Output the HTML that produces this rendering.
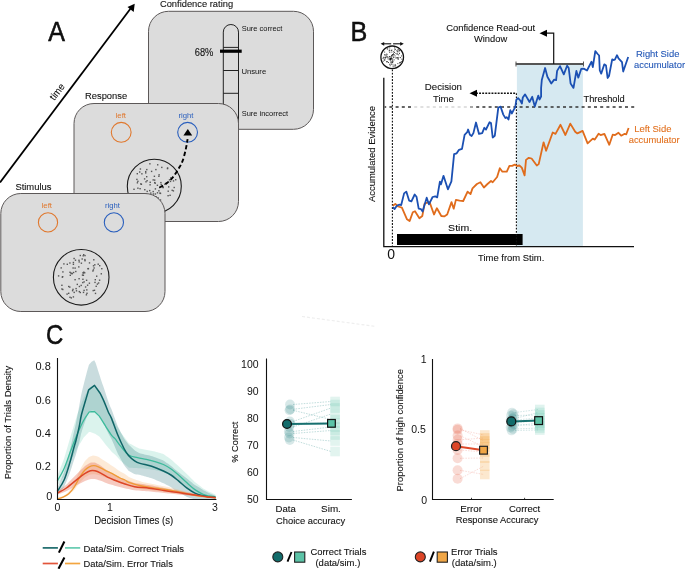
<!DOCTYPE html>
<html><head><meta charset="utf-8"><style>
html,body{margin:0;padding:0;background:#fff;width:685px;height:569px;overflow:hidden}
svg{display:block;will-change:transform}
text{font-family:"Liberation Sans", sans-serif}
</style></head><body>
<svg width="685" height="569" viewBox="0 0 685 569" fill="#111">
<text x="48.2" y="40.8" font-size="26.8" textLength="16.7" lengthAdjust="spacingAndGlyphs" stroke="#000" stroke-width="0.5">A</text>
<line x1="0" y1="182.5" x2="131" y2="8" stroke="#000" stroke-width="1.8"/>
<path d="M134.7,3.7 L127.5,7.0 L133.7,11.9 Z" fill="#000"/>
<text x="0" y="0" font-size="9.86" textLength="18.14" lengthAdjust="spacingAndGlyphs" stroke="#111" stroke-width="0.1" transform="translate(54.36,101) rotate(-53)">time</text>
<rect x="148.5" y="11.3" width="165" height="118" rx="20" ry="20" fill="#dcdcdc" stroke="#5c5858" stroke-width="1"/>
<text x="159.92" y="7.4" font-size="9.75" textLength="73.19" lengthAdjust="spacingAndGlyphs" stroke="#111" stroke-width="0.1">Confidence rating</text>
<path d="M223.3,128 L223.3,32.1 A7.6,7.6 0 0 1 238.5,32.1 L238.5,128" fill="none" stroke="#222" stroke-width="1"/>
<line x1="223.3" y1="47.4" x2="238.5" y2="47.4" stroke="#222" stroke-width="1"/>
<line x1="223.3" y1="70.5" x2="238.5" y2="70.5" stroke="#222" stroke-width="1"/>
<line x1="223.3" y1="93.3" x2="238.5" y2="93.3" stroke="#222" stroke-width="1"/>
<line x1="220" y1="51.2" x2="241.7" y2="51.2" stroke="#000" stroke-width="3.2"/>
<text x="194.73" y="55.6" font-size="10.06" textLength="18.62" lengthAdjust="spacingAndGlyphs" stroke="#111" stroke-width="0.1">68%</text>
<text x="241.66" y="31.3" font-size="7.84" textLength="40.69" lengthAdjust="spacingAndGlyphs">Sure correct</text>
<text x="241.41" y="73.8" font-size="7.84" textLength="24.78" lengthAdjust="spacingAndGlyphs">Unsure</text>
<text x="241.66" y="115.5" font-size="7.84" textLength="46.45" lengthAdjust="spacingAndGlyphs">Sure incorrect</text>
<rect x="74" y="103.5" width="164.5" height="118" rx="20" ry="20" fill="#dcdcdc" stroke="#5c5858" stroke-width="1"/>
<text x="85.03" y="99" font-size="9.65" textLength="42.16" lengthAdjust="spacingAndGlyphs" stroke="#111" stroke-width="0.1">Response</text>
<text x="120.80" y="118.3" font-size="7.84" textLength="10.45" lengthAdjust="spacingAndGlyphs" text-anchor="middle" fill="#e0782e">left</text>
<text x="186.00" y="118.3" font-size="7.84" textLength="14.95" lengthAdjust="spacingAndGlyphs" text-anchor="middle" fill="#2a5fbd">right</text>
<circle cx="121.2" cy="132.3" r="9.9" fill="none" stroke="#e0782e" stroke-width="1.1"/>
<circle cx="187.6" cy="132.3" r="9.9" fill="none" stroke="#2a5fbd" stroke-width="1.1"/>
<path d="M187.8,128.9 L192.2,135.6 L183.4,135.6 Z" fill="#000"/>
<circle cx="154.3" cy="186.3" r="27" fill="#dcdcdc" stroke="#1a1a1a" stroke-width="1.1"/>
<g fill="#555"><rect x="139.4" y="188.0" width="1.4" height="1.4"/><rect x="159.2" y="192.4" width="1.4" height="1.4"/><rect x="152.0" y="203.7" width="1.4" height="1.4"/><rect x="161.1" y="166.7" width="1.4" height="1.4"/><rect x="173.5" y="186.8" width="1.4" height="1.4"/><rect x="167.5" y="190.5" width="1.4" height="1.4"/><rect x="152.1" y="197.4" width="1.4" height="1.4"/><rect x="147.9" y="201.8" width="1.4" height="1.4"/><rect x="150.1" y="192.4" width="1.4" height="1.4"/><rect x="154.0" y="179.4" width="1.4" height="1.4"/><rect x="158.2" y="190.1" width="1.4" height="1.4"/><rect x="157.3" y="197.1" width="1.4" height="1.4"/><rect x="171.5" y="189.6" width="1.4" height="1.4"/><rect x="169.8" y="180.7" width="1.4" height="1.4"/><rect x="137.2" y="180.6" width="1.4" height="1.4"/><rect x="175.0" y="179.0" width="1.4" height="1.4"/><rect x="154.7" y="193.3" width="1.4" height="1.4"/><rect x="156.8" y="192.1" width="1.4" height="1.4"/><rect x="154.0" y="181.9" width="1.4" height="1.4"/><rect x="154.7" y="188.2" width="1.4" height="1.4"/><rect x="149.0" y="189.9" width="1.4" height="1.4"/><rect x="159.8" y="192.7" width="1.4" height="1.4"/><rect x="160.5" y="183.8" width="1.4" height="1.4"/><rect x="145.6" y="196.8" width="1.4" height="1.4"/><rect x="140.1" y="183.2" width="1.4" height="1.4"/><rect x="143.9" y="178.2" width="1.4" height="1.4"/><rect x="146.5" y="190.7" width="1.4" height="1.4"/><rect x="146.9" y="200.3" width="1.4" height="1.4"/><rect x="157.3" y="198.3" width="1.4" height="1.4"/><rect x="138.6" y="202.0" width="1.4" height="1.4"/><rect x="136.7" y="182.1" width="1.4" height="1.4"/><rect x="144.6" y="203.6" width="1.4" height="1.4"/><rect x="144.8" y="193.7" width="1.4" height="1.4"/><rect x="150.9" y="170.7" width="1.4" height="1.4"/><rect x="155.2" y="168.9" width="1.4" height="1.4"/><rect x="141.6" y="202.2" width="1.4" height="1.4"/><rect x="170.1" y="177.2" width="1.4" height="1.4"/><rect x="142.3" y="201.4" width="1.4" height="1.4"/><rect x="145.3" y="181.1" width="1.4" height="1.4"/><rect x="162.4" y="186.6" width="1.4" height="1.4"/><rect x="145.0" y="170.9" width="1.4" height="1.4"/><rect x="158.4" y="174.1" width="1.4" height="1.4"/><rect x="166.8" y="167.9" width="1.4" height="1.4"/><rect x="162.4" y="186.9" width="1.4" height="1.4"/><rect x="145.0" y="172.2" width="1.4" height="1.4"/><rect x="152.3" y="200.8" width="1.4" height="1.4"/><rect x="137.2" y="187.5" width="1.4" height="1.4"/><rect x="160.5" y="205.2" width="1.4" height="1.4"/><rect x="141.2" y="173.1" width="1.4" height="1.4"/><rect x="149.4" y="184.1" width="1.4" height="1.4"/><rect x="153.7" y="175.6" width="1.4" height="1.4"/><rect x="145.5" y="193.5" width="1.4" height="1.4"/><rect x="146.1" y="168.9" width="1.4" height="1.4"/><rect x="133.3" y="188.6" width="1.4" height="1.4"/><rect x="136.2" y="178.7" width="1.4" height="1.4"/><rect x="168.8" y="179.1" width="1.4" height="1.4"/><rect x="160.2" y="181.9" width="1.4" height="1.4"/><rect x="153.4" y="196.5" width="1.4" height="1.4"/><rect x="164.1" y="183.5" width="1.4" height="1.4"/><rect x="155.5" y="196.1" width="1.4" height="1.4"/><rect x="149.5" y="181.6" width="1.4" height="1.4"/><rect x="140.7" y="183.6" width="1.4" height="1.4"/><rect x="169.4" y="194.6" width="1.4" height="1.4"/><rect x="157.0" y="164.1" width="1.4" height="1.4"/><rect x="157.9" y="201.7" width="1.4" height="1.4"/><rect x="168.0" y="186.2" width="1.4" height="1.4"/><rect x="144.1" y="189.0" width="1.4" height="1.4"/><rect x="139.7" y="168.3" width="1.4" height="1.4"/><rect x="159.8" y="199.3" width="1.4" height="1.4"/><rect x="146.4" y="180.0" width="1.4" height="1.4"/><rect x="149.2" y="163.1" width="1.4" height="1.4"/><rect x="166.9" y="167.3" width="1.4" height="1.4"/><rect x="167.4" y="195.0" width="1.4" height="1.4"/><rect x="152.7" y="193.3" width="1.4" height="1.4"/><rect x="154.5" y="182.5" width="1.4" height="1.4"/><rect x="136.6" y="173.0" width="1.4" height="1.4"/><rect x="158.2" y="175.6" width="1.4" height="1.4"/><rect x="142.6" y="196.7" width="1.4" height="1.4"/><rect x="172.7" y="190.2" width="1.4" height="1.4"/><rect x="152.5" y="179.2" width="1.4" height="1.4"/><rect x="146.0" y="176.0" width="1.4" height="1.4"/><rect x="152.5" y="190.9" width="1.4" height="1.4"/><rect x="156.7" y="184.6" width="1.4" height="1.4"/><rect x="172.8" y="180.2" width="1.4" height="1.4"/><rect x="139.0" y="171.3" width="1.4" height="1.4"/></g>
<path d="M159.30,187.70 C160.63,186.88 164.95,184.65 167.30,182.80 C169.65,180.95 171.45,179.07 173.40,176.60 C175.35,174.13 177.45,170.65 179.00,168.00 C180.55,165.35 181.58,163.77 182.70,160.70 C183.82,157.63 184.88,153.20 185.70,149.60 C186.52,146.00 187.28,140.85 187.60,139.10" fill="none" stroke="#000" stroke-width="1.9" stroke-dasharray="4.3,2.6"/>
<rect x="0.8" y="193.5" width="164.2" height="118" rx="20" ry="20" fill="#dcdcdc" stroke="#5c5858" stroke-width="1"/>
<text x="15.38" y="190.3" font-size="9.75" textLength="36.03" lengthAdjust="spacingAndGlyphs" stroke="#111" stroke-width="0.1">Stimulus</text>
<text x="46.80" y="207.6" font-size="7.84" textLength="10.45" lengthAdjust="spacingAndGlyphs" text-anchor="middle" fill="#e0782e">left</text>
<text x="112.50" y="207.6" font-size="7.84" textLength="14.95" lengthAdjust="spacingAndGlyphs" text-anchor="middle" fill="#2a5fbd">right</text>
<circle cx="48" cy="222.4" r="9.6" fill="none" stroke="#e0782e" stroke-width="1.1"/>
<circle cx="113.9" cy="222.4" r="9.6" fill="none" stroke="#2a5fbd" stroke-width="1.1"/>
<circle cx="81.2" cy="277.3" r="27.8" fill="#dcdcdc" stroke="#1a1a1a" stroke-width="1.1"/>
<g fill="#555"><rect x="63.2" y="263.2" width="1.4" height="1.4"/><rect x="70.1" y="272.3" width="1.4" height="1.4"/><rect x="99.0" y="265.0" width="1.4" height="1.4"/><rect x="84.9" y="286.3" width="1.4" height="1.4"/><rect x="71.3" y="273.0" width="1.4" height="1.4"/><rect x="74.4" y="279.0" width="1.4" height="1.4"/><rect x="68.0" y="285.8" width="1.4" height="1.4"/><rect x="73.5" y="291.7" width="1.4" height="1.4"/><rect x="69.1" y="286.4" width="1.4" height="1.4"/><rect x="97.5" y="263.5" width="1.4" height="1.4"/><rect x="82.5" y="255.1" width="1.4" height="1.4"/><rect x="72.3" y="288.7" width="1.4" height="1.4"/><rect x="84.2" y="258.9" width="1.4" height="1.4"/><rect x="60.5" y="267.2" width="1.4" height="1.4"/><rect x="85.9" y="279.6" width="1.4" height="1.4"/><rect x="78.1" y="266.2" width="1.4" height="1.4"/><rect x="94.6" y="279.0" width="1.4" height="1.4"/><rect x="72.7" y="263.6" width="1.4" height="1.4"/><rect x="80.7" y="262.5" width="1.4" height="1.4"/><rect x="72.4" y="267.3" width="1.4" height="1.4"/><rect x="82.8" y="291.7" width="1.4" height="1.4"/><rect x="93.1" y="259.1" width="1.4" height="1.4"/><rect x="75.8" y="290.1" width="1.4" height="1.4"/><rect x="94.3" y="281.7" width="1.4" height="1.4"/><rect x="74.8" y="259.5" width="1.4" height="1.4"/><rect x="84.3" y="260.0" width="1.4" height="1.4"/><rect x="83.4" y="281.2" width="1.4" height="1.4"/><rect x="69.3" y="296.6" width="1.4" height="1.4"/><rect x="86.1" y="289.2" width="1.4" height="1.4"/><rect x="95.5" y="285.6" width="1.4" height="1.4"/><rect x="81.8" y="274.4" width="1.4" height="1.4"/><rect x="80.5" y="284.7" width="1.4" height="1.4"/><rect x="96.7" y="283.4" width="1.4" height="1.4"/><rect x="72.7" y="261.8" width="1.4" height="1.4"/><rect x="70.6" y="297.2" width="1.4" height="1.4"/><rect x="92.5" y="289.9" width="1.4" height="1.4"/><rect x="100.6" y="273.1" width="1.4" height="1.4"/><rect x="79.6" y="254.8" width="1.4" height="1.4"/><rect x="61.6" y="276.4" width="1.4" height="1.4"/><rect x="82.6" y="272.2" width="1.4" height="1.4"/><rect x="69.6" y="274.6" width="1.4" height="1.4"/><rect x="92.7" y="269.2" width="1.4" height="1.4"/><rect x="82.1" y="281.9" width="1.4" height="1.4"/><rect x="78.3" y="259.6" width="1.4" height="1.4"/><rect x="62.2" y="271.2" width="1.4" height="1.4"/><rect x="62.0" y="276.0" width="1.4" height="1.4"/><rect x="75.4" y="287.9" width="1.4" height="1.4"/><rect x="75.1" y="270.8" width="1.4" height="1.4"/><rect x="57.9" y="275.2" width="1.4" height="1.4"/><rect x="87.3" y="268.0" width="1.4" height="1.4"/><rect x="68.0" y="292.6" width="1.4" height="1.4"/><rect x="66.6" y="263.6" width="1.4" height="1.4"/><rect x="87.7" y="267.9" width="1.4" height="1.4"/><rect x="74.4" y="267.4" width="1.4" height="1.4"/><rect x="93.8" y="289.6" width="1.4" height="1.4"/><rect x="72.9" y="271.8" width="1.4" height="1.4"/><rect x="96.0" y="275.5" width="1.4" height="1.4"/><rect x="62.1" y="288.8" width="1.4" height="1.4"/><rect x="92.2" y="270.3" width="1.4" height="1.4"/><rect x="61.2" y="288.3" width="1.4" height="1.4"/><rect x="78.6" y="290.9" width="1.4" height="1.4"/><rect x="93.4" y="267.3" width="1.4" height="1.4"/><rect x="84.3" y="254.9" width="1.4" height="1.4"/><rect x="88.8" y="262.2" width="1.4" height="1.4"/><rect x="61.2" y="284.6" width="1.4" height="1.4"/><rect x="84.0" y="272.1" width="1.4" height="1.4"/><rect x="86.3" y="292.6" width="1.4" height="1.4"/><rect x="78.5" y="261.2" width="1.4" height="1.4"/><rect x="86.9" y="284.5" width="1.4" height="1.4"/><rect x="101.1" y="268.0" width="1.4" height="1.4"/><rect x="85.7" y="294.1" width="1.4" height="1.4"/><rect x="82.7" y="274.6" width="1.4" height="1.4"/><rect x="83.4" y="289.7" width="1.4" height="1.4"/><rect x="88.7" y="282.5" width="1.4" height="1.4"/><rect x="71.3" y="272.7" width="1.4" height="1.4"/><rect x="82.5" y="272.1" width="1.4" height="1.4"/><rect x="79.6" y="291.8" width="1.4" height="1.4"/><rect x="92.8" y="265.1" width="1.4" height="1.4"/><rect x="94.1" y="264.1" width="1.4" height="1.4"/><rect x="71.9" y="290.0" width="1.4" height="1.4"/><rect x="69.3" y="271.6" width="1.4" height="1.4"/><rect x="73.4" y="257.8" width="1.4" height="1.4"/><rect x="78.4" y="278.0" width="1.4" height="1.4"/><rect x="72.7" y="296.2" width="1.4" height="1.4"/><rect x="69.2" y="262.3" width="1.4" height="1.4"/><rect x="82.2" y="278.6" width="1.4" height="1.4"/><rect x="83.0" y="254.0" width="1.4" height="1.4"/><rect x="66.4" y="293.4" width="1.4" height="1.4"/><rect x="76.6" y="283.7" width="1.4" height="1.4"/><rect x="94.8" y="292.7" width="1.4" height="1.4"/><rect x="98.9" y="279.5" width="1.4" height="1.4"/><rect x="78.7" y="285.8" width="1.4" height="1.4"/><rect x="97.9" y="282.3" width="1.4" height="1.4"/><rect x="81.5" y="258.3" width="1.4" height="1.4"/><rect x="83.1" y="271.5" width="1.4" height="1.4"/></g>
<text x="350.4" y="40.8" font-size="26.8" textLength="16.8" lengthAdjust="spacingAndGlyphs" stroke="#000" stroke-width="0.5">B</text>
<rect x="516.9" y="63.6" width="66" height="182.8" fill="#d6e9f1"/>
<path d="M383.8,77.8 L383.8,246.6 L634,246.6" fill="none" stroke="#111" stroke-width="1.3"/>
<rect x="397" y="234" width="125.6" height="11" fill="#000"/>
<text x="448.13" y="231.3" font-size="8.89" textLength="23.93" lengthAdjust="spacingAndGlyphs" stroke="#111" stroke-width="0.1">Stim.</text>
<text x="387.2" y="259.2" font-size="14">0</text>
<text x="477.99" y="261.2" font-size="9.86" textLength="66.34" lengthAdjust="spacingAndGlyphs" stroke="#111" stroke-width="0.1">Time from Stim.</text>
<text x="0" y="0" font-size="9.96" textLength="96.06" lengthAdjust="spacingAndGlyphs" stroke="#111" stroke-width="0.1" transform="translate(374.78,202) rotate(-90)">Accumulated Evidence</text>
<line x1="392.4" y1="69.5" x2="392.4" y2="247" stroke="#111" stroke-width="1.1" stroke-dasharray="1.8,1.4"/>
<line x1="516.4" y1="93.3" x2="516.4" y2="247" stroke="#111" stroke-width="1.1" stroke-dasharray="1.8,1.4"/>
<line x1="476" y1="93.3" x2="516.4" y2="93.3" stroke="#111" stroke-width="1.4" stroke-dasharray="1.9,1.2"/>
<path d="M469.5,93.3 L477,89.8 L477,96.8 Z" fill="#000"/>
<text x="443.40" y="89.9" font-size="9.86" textLength="37.09" lengthAdjust="spacingAndGlyphs" text-anchor="middle" stroke="#111" stroke-width="0.1">Decision</text>
<text x="443.40" y="102" font-size="9.86" textLength="20.95" lengthAdjust="spacingAndGlyphs" text-anchor="middle" stroke="#111" stroke-width="0.1">Time</text>
<rect x="384.60" y="106.25" width="1.60" height="1.5" fill="#333"/><rect x="389.40" y="106.25" width="3.00" height="1.5" fill="#333"/><rect x="395.60" y="106.25" width="3.00" height="1.5" fill="#333"/><rect x="401.80" y="106.25" width="3.00" height="1.5" fill="#333"/><rect x="408.00" y="106.25" width="3.00" height="1.5" fill="#333"/><rect x="414.20" y="106.25" width="3.00" height="1.5" fill="#d6d6d6"/><rect x="420.40" y="106.25" width="3.00" height="1.5" fill="#d6d6d6"/><rect x="426.60" y="106.25" width="3.00" height="1.5" fill="#d6d6d6"/><rect x="432.80" y="106.25" width="3.00" height="1.5" fill="#d6d6d6"/><rect x="439.00" y="106.25" width="3.00" height="1.5" fill="#d6d6d6"/><rect x="445.20" y="106.25" width="3.00" height="1.5" fill="#d6d6d6"/><rect x="451.40" y="106.25" width="3.00" height="1.5" fill="#d6d6d6"/><rect x="457.60" y="106.25" width="3.00" height="1.5" fill="#d6d6d6"/><rect x="463.80" y="106.25" width="3.00" height="1.5" fill="#d6d6d6"/><rect x="470.00" y="106.25" width="3.00" height="1.5" fill="#8a8a8a"/><rect x="476.20" y="106.25" width="3.00" height="1.5" fill="#333"/><rect x="482.40" y="106.25" width="3.00" height="1.5" fill="#333"/><rect x="488.60" y="106.25" width="3.00" height="1.5" fill="#333"/><rect x="494.80" y="106.25" width="3.00" height="1.5" fill="#333"/><rect x="501.00" y="106.25" width="3.00" height="1.5" fill="#333"/><rect x="507.20" y="106.25" width="3.00" height="1.5" fill="#333"/><rect x="513.40" y="106.25" width="3.00" height="1.5" fill="#333"/><rect x="519.60" y="106.25" width="3.00" height="1.5" fill="#333"/><rect x="525.80" y="106.25" width="3.00" height="1.5" fill="#333"/><rect x="532.00" y="106.25" width="3.00" height="1.5" fill="#333"/><rect x="538.20" y="106.25" width="3.00" height="1.5" fill="#333"/><rect x="544.40" y="106.25" width="3.00" height="1.5" fill="#333"/><rect x="550.60" y="106.25" width="3.00" height="1.5" fill="#333"/><rect x="556.80" y="106.25" width="3.00" height="1.5" fill="#333"/><rect x="563.00" y="106.25" width="3.00" height="1.5" fill="#333"/><rect x="569.20" y="106.25" width="3.00" height="1.5" fill="#333"/><rect x="575.40" y="106.25" width="3.00" height="1.5" fill="#333"/><rect x="581.60" y="106.25" width="3.00" height="1.5" fill="#333"/><rect x="587.80" y="106.25" width="3.00" height="1.5" fill="#333"/><rect x="594.00" y="106.25" width="3.00" height="1.5" fill="#333"/><rect x="600.20" y="106.25" width="3.00" height="1.5" fill="#333"/><rect x="606.40" y="106.25" width="3.00" height="1.5" fill="#333"/><rect x="612.60" y="106.25" width="3.00" height="1.5" fill="#333"/><rect x="618.80" y="106.25" width="3.00" height="1.5" fill="#333"/><rect x="625.00" y="106.25" width="3.00" height="1.5" fill="#333"/><rect x="631.20" y="106.25" width="3.00" height="1.5" fill="#333"/>
<text x="583.50" y="102.2" font-size="9.65" textLength="41.26" lengthAdjust="spacingAndGlyphs" stroke="#111" stroke-width="0.1">Threshold</text>
<line x1="515.8" y1="64" x2="583.8" y2="64" stroke="#555" stroke-width="2"/>
<line x1="516" y1="61.5" x2="516" y2="66.5" stroke="#555" stroke-width="1"/>
<line x1="583.5" y1="61.5" x2="583.5" y2="66.5" stroke="#555" stroke-width="1"/>
<path d="M553.7,64 L553.7,33.2 L546,33.2" fill="none" stroke="#111" stroke-width="1.2"/>
<path d="M539.5,33.2 L547,29.7 L547,36.7 Z" fill="#000"/>
<text x="490.60" y="30.7" font-size="9.91" textLength="88.91" lengthAdjust="spacingAndGlyphs" text-anchor="middle" stroke="#111" stroke-width="0.1">Confidence Read-out</text>
<text x="490.60" y="42" font-size="9.91" textLength="33.27" lengthAdjust="spacingAndGlyphs" text-anchor="middle" stroke="#111" stroke-width="0.1">Window</text>
<circle cx="392.2" cy="57.3" r="11.3" fill="#fff" stroke="#111" stroke-width="1.3"/>
<g fill="#222"><rect x="390.7" y="63.7" width="0.9" height="0.9"/><rect x="387.6" y="57.3" width="0.9" height="0.9"/><rect x="392.9" y="56.6" width="0.9" height="0.9"/><rect x="382.8" y="60.7" width="0.9" height="0.9"/><rect x="384.5" y="54.2" width="0.9" height="0.9"/><rect x="389.3" y="51.9" width="0.9" height="0.9"/><rect x="392.3" y="62.3" width="0.9" height="0.9"/><rect x="394.7" y="64.0" width="0.9" height="0.9"/><rect x="391.4" y="51.6" width="0.9" height="0.9"/><rect x="395.1" y="48.8" width="0.9" height="0.9"/><rect x="397.6" y="49.5" width="0.9" height="0.9"/><rect x="392.5" y="54.2" width="0.9" height="0.9"/><rect x="386.8" y="48.5" width="0.9" height="0.9"/><rect x="391.4" y="61.4" width="0.9" height="0.9"/><rect x="397.4" y="63.2" width="0.9" height="0.9"/><rect x="390.9" y="57.7" width="0.9" height="0.9"/><rect x="392.5" y="64.4" width="0.9" height="0.9"/><rect x="384.2" y="51.6" width="0.9" height="0.9"/><rect x="389.7" y="65.3" width="0.9" height="0.9"/><rect x="395.9" y="57.4" width="0.9" height="0.9"/><rect x="382.5" y="57.8" width="0.9" height="0.9"/><rect x="383.8" y="59.1" width="0.9" height="0.9"/><rect x="391.9" y="54.0" width="0.9" height="0.9"/><rect x="391.8" y="62.1" width="0.9" height="0.9"/><rect x="390.7" y="56.3" width="0.9" height="0.9"/><rect x="392.4" y="55.5" width="0.9" height="0.9"/><rect x="388.7" y="50.4" width="0.9" height="0.9"/><rect x="396.5" y="53.7" width="0.9" height="0.9"/><rect x="391.9" y="54.6" width="0.9" height="0.9"/><rect x="395.2" y="65.3" width="0.9" height="0.9"/><rect x="388.8" y="59.4" width="0.9" height="0.9"/><rect x="392.6" y="66.4" width="0.9" height="0.9"/><rect x="401.1" y="55.5" width="0.9" height="0.9"/><rect x="389.0" y="56.3" width="0.9" height="0.9"/><rect x="394.0" y="47.5" width="0.9" height="0.9"/><rect x="386.6" y="54.3" width="0.9" height="0.9"/><rect x="390.2" y="59.8" width="0.9" height="0.9"/><rect x="391.3" y="55.1" width="0.9" height="0.9"/><rect x="399.1" y="53.0" width="0.9" height="0.9"/><rect x="393.6" y="65.5" width="0.9" height="0.9"/><rect x="389.3" y="47.5" width="0.9" height="0.9"/><rect x="392.3" y="58.5" width="0.9" height="0.9"/><rect x="385.7" y="56.1" width="0.9" height="0.9"/><rect x="395.4" y="57.5" width="0.9" height="0.9"/><rect x="383.5" y="57.6" width="0.9" height="0.9"/><rect x="399.8" y="62.2" width="0.9" height="0.9"/><rect x="389.4" y="50.3" width="0.9" height="0.9"/><rect x="389.2" y="49.6" width="0.9" height="0.9"/><rect x="386.4" y="61.2" width="0.9" height="0.9"/><rect x="390.4" y="58.3" width="0.9" height="0.9"/><rect x="396.3" y="50.4" width="0.9" height="0.9"/><rect x="394.2" y="49.5" width="0.9" height="0.9"/><rect x="389.4" y="57.7" width="0.9" height="0.9"/><rect x="394.6" y="55.5" width="0.9" height="0.9"/><rect x="391.5" y="58.6" width="0.9" height="0.9"/><rect x="400.8" y="61.0" width="0.9" height="0.9"/><rect x="391.4" y="49.6" width="0.9" height="0.9"/><rect x="388.1" y="62.1" width="0.9" height="0.9"/><rect x="391.2" y="57.7" width="0.9" height="0.9"/><rect x="390.5" y="56.7" width="0.9" height="0.9"/><rect x="399.1" y="50.1" width="0.9" height="0.9"/><rect x="397.7" y="58.0" width="0.9" height="0.9"/><rect x="399.3" y="62.5" width="0.9" height="0.9"/><rect x="397.1" y="53.5" width="0.9" height="0.9"/><rect x="393.3" y="51.2" width="0.9" height="0.9"/><rect x="393.2" y="54.3" width="0.9" height="0.9"/><rect x="393.0" y="52.8" width="0.9" height="0.9"/><rect x="384.3" y="54.5" width="0.9" height="0.9"/><rect x="389.7" y="58.6" width="0.9" height="0.9"/><rect x="385.0" y="57.0" width="0.9" height="0.9"/><rect x="400.1" y="57.2" width="0.9" height="0.9"/><rect x="391.2" y="55.4" width="0.9" height="0.9"/><rect x="393.4" y="57.1" width="0.9" height="0.9"/><rect x="397.4" y="50.6" width="0.9" height="0.9"/><rect x="397.7" y="49.3" width="0.9" height="0.9"/><rect x="386.5" y="57.0" width="0.9" height="0.9"/><rect x="391.8" y="61.1" width="0.9" height="0.9"/><rect x="398.6" y="51.4" width="0.9" height="0.9"/><rect x="393.7" y="54.3" width="0.9" height="0.9"/><rect x="384.3" y="60.0" width="0.9" height="0.9"/><rect x="399.6" y="62.0" width="0.9" height="0.9"/><rect x="391.4" y="62.2" width="0.9" height="0.9"/><rect x="392.7" y="60.7" width="0.9" height="0.9"/><rect x="394.6" y="65.5" width="0.9" height="0.9"/><rect x="398.2" y="54.4" width="0.9" height="0.9"/><rect x="386.4" y="61.4" width="0.9" height="0.9"/><rect x="386.8" y="61.3" width="0.9" height="0.9"/><rect x="389.2" y="63.8" width="0.9" height="0.9"/><rect x="395.5" y="52.9" width="0.9" height="0.9"/><rect x="390.7" y="63.6" width="0.9" height="0.9"/><rect x="385.6" y="54.9" width="0.9" height="0.9"/><rect x="387.6" y="58.5" width="0.9" height="0.9"/><rect x="394.0" y="52.1" width="0.9" height="0.9"/><rect x="384.9" y="58.4" width="0.9" height="0.9"/><rect x="397.7" y="59.1" width="0.9" height="0.9"/><rect x="397.1" y="57.3" width="0.9" height="0.9"/><rect x="398.4" y="56.9" width="0.9" height="0.9"/><rect x="401.4" y="58.7" width="0.9" height="0.9"/><rect x="383.2" y="56.8" width="0.9" height="0.9"/><rect x="387.3" y="56.2" width="0.9" height="0.9"/><rect x="387.3" y="48.5" width="0.9" height="0.9"/><rect x="397.3" y="57.5" width="0.9" height="0.9"/><rect x="391.9" y="59.8" width="0.9" height="0.9"/><rect x="390.0" y="61.6" width="0.9" height="0.9"/><rect x="389.3" y="56.1" width="0.9" height="0.9"/><rect x="397.1" y="51.4" width="0.9" height="0.9"/><rect x="386.3" y="53.6" width="0.9" height="0.9"/><rect x="391.2" y="50.1" width="0.9" height="0.9"/><rect x="393.7" y="59.4" width="0.9" height="0.9"/><rect x="384.5" y="56.9" width="0.9" height="0.9"/></g>
<circle cx="390.5" cy="59" r="1.1" fill="#111"/>
<line x1="383.5" y1="43.8" x2="391.2" y2="43.8" stroke="#111" stroke-width="1.1"/>
<line x1="393.1" y1="43.8" x2="401" y2="43.8" stroke="#111" stroke-width="1.1"/>
<path d="M380.6,43.8 L384.2,41.9 L384.2,45.7 Z M403.8,43.8 L400.2,41.9 L400.2,45.7 Z" fill="#111"/>
<text x="657.70" y="57" font-size="9.70" textLength="43.40" lengthAdjust="spacingAndGlyphs" text-anchor="middle" fill="#2256b6" stroke="#2256b6" stroke-width="0.1">Right Side</text>
<text x="659.50" y="67.7" font-size="9.83" textLength="51.03" lengthAdjust="spacingAndGlyphs" text-anchor="middle" fill="#2256b6" stroke="#2256b6" stroke-width="0.1">accumulator</text>
<text x="652.80" y="131.7" font-size="9.70" textLength="37.31" lengthAdjust="spacingAndGlyphs" text-anchor="middle" fill="#e2711f" stroke="#e2711f" stroke-width="0.1">Left Side</text>
<text x="654.20" y="143.1" font-size="9.83" textLength="51.03" lengthAdjust="spacingAndGlyphs" text-anchor="middle" fill="#e2711f" stroke="#e2711f" stroke-width="0.1">accumulator</text>
<path d="M392.8,205.8 L395.3,203.9 L398.2,206.5 L401.9,207.7 L407.0,219.3 L409.6,221.1 L412.8,212.3 L415.0,211.3 L419.4,218.2 L422.3,216.0 L424.5,203.9 L426.7,202.8 L429.6,202.1 L434.0,214.5 L436.9,208.2 L441.3,216.0 L444.2,216.4 L447.2,214.5 L451.5,202.1 L453.7,208.7 L455.9,199.9 L459.6,200.7 L463.2,201.0 L467.6,191.6 L470.5,194.1 L472.5,188.4 L476.9,184.0 L480.4,182.3 L483.9,187.5 L487.5,184.0 L491.0,181.0 L492.7,182.3 L497.1,177.0 L499.8,168.2 L502.4,171.7 L506.8,171.7 L509.4,165.9 L512.1,165.9 L514.8,164.6 L516.9,166.0 L519.4,165.5 L521.8,167.6 L524.6,175.4 L526.0,159.9 L528.8,157.8 L531.6,158.5 L536.8,165.5 L538.7,164.1 L543.6,142.3 L546.1,150.8 L552.7,132.5 L555.5,133.9 L560.5,124.8 L565.4,135.0 L570.3,123.6 L575.2,131.8 L577.4,133.4 L582.6,130.9 L587.6,143.4 L592.8,138.6 L594.8,139.6 L598.6,133.8 L600.6,135.1 L604.4,133.8 L609.3,144.8 L612.7,134.7 L615.1,135.1 L618.5,132.8 L621.2,135.7 L624.7,133.8 L626.3,134.3 L628.6,128.0" fill="none" stroke="#e06c1c" stroke-width="1.8" stroke-linejoin="round"/>
<path d="M392.8,207.2 L394.6,209.1 L396.8,205.8 L399.0,204.7 L401.2,205.0 L404.1,193.4 L406.3,191.6 L409.2,200.7 L411.4,201.4 L414.7,194.5 L416.5,196.7 L418.7,208.7 L420.9,209.1 L422.6,211.6 L426.7,197.7 L428.9,204.3 L432.6,197.0 L435.2,196.3 L437.2,197.4 L439.9,181.7 L441.0,184.3 L443.5,175.8 L447.9,189.3 L451.4,181.4 L454.1,154.1 L456.7,153.3 L459.0,149.8 L462.0,148.9 L464.6,134.8 L467.2,132.2 L468.1,129.5 L469.9,134.8 L471.6,136.0 L473.4,133.1 L476.0,122.5 L479.0,133.9 L482.2,133.1 L484.3,127.8 L486.0,129.5 L489.6,122.2 L491.0,123.0 L492.7,137.5 L494.8,135.7 L498.3,107.6 L500.6,106.7 L503.3,114.6 L505.4,118.1 L506.8,117.2 L508.5,119.5 L510.3,110.2 L511.8,113.5 L513.8,109.6 L515.2,107.3 L516.4,99.7 L518.1,98.2 L520.3,100.5 L521.9,103.5 L522.8,97.5 L525.1,94.4 L529.5,102.0 L532.2,96.8 L534.8,106.6 L538.3,95.6 L539.5,99.5 L541.1,96.6 L541.1,88.0 L541.8,80.0 L545.1,68.0 L547.4,76.7 L551.3,83.5 L554.2,79.6 L556.1,80.2 L557.1,70.9 L560.0,66.1 L563.8,74.4 L567.1,65.7 L568.7,68.0 L570.6,83.5 L573.5,87.9 L576.4,70.9 L578.3,77.7 L581.2,69.0 L583.7,68.6 L587.0,70.5 L591.5,61.7 L592.8,67.1 L595.3,51.2 L597.7,54.0 L599.1,55.5 L599.8,70.5 L601.2,73.6 L604.3,64.3 L606.0,65.5 L607.6,78.0 L609.0,76.0 L612.2,59.4 L613.9,60.1 L615.0,59.4 L617.0,55.2 L618.5,58.4 L622.0,62.2 L623.2,71.5 L628.2,57.0" fill="none" stroke="#1b50b3" stroke-width="1.8" stroke-linejoin="round"/>
<text x="45.9" y="344" font-size="27.5" textLength="17.3" lengthAdjust="spacingAndGlyphs" stroke="#000" stroke-width="0.5">C</text>
<line x1="302" y1="316.5" x2="376" y2="326.5" stroke="#eee" stroke-width="1.2" stroke-dasharray="3,2"/>
<path d="M57.30,476.10 L58.62,472.69 L59.94,469.28 L61.26,465.87 L62.58,462.46 L63.90,459.05 L65.22,454.72 L66.53,450.21 L67.85,445.70 L69.17,441.19 L70.49,436.68 L71.81,432.32 L73.13,428.01 L74.45,423.69 L75.77,419.38 L77.09,415.06 L78.41,411.27 L79.73,407.48 L81.05,404.13 L82.36,400.89 L83.68,397.76 L85.00,395.32 L86.32,392.88 L87.64,390.44 L88.96,388.01 L90.28,386.99 L91.60,386.48 L92.92,385.96 L94.24,385.65 L95.56,387.36 L96.88,389.34 L98.19,391.33 L99.51,393.45 L100.83,396.28 L102.15,399.11 L103.47,401.94 L104.79,404.77 L106.11,407.36 L107.43,409.86 L108.75,412.37 L110.07,414.88 L111.39,417.38 L112.70,419.49 L114.02,421.33 L115.34,423.29 L116.66,425.57 L117.98,427.85 L119.30,430.13 L120.62,432.31 L121.94,434.08 L123.26,435.81 L124.58,437.54 L125.90,439.26 L127.22,440.99 L128.53,442.72 L129.85,443.63 L131.17,444.34 L132.49,445.04 L133.81,445.74 L135.13,446.45 L136.45,447.15 L137.77,447.83 L139.09,448.41 L140.41,448.87 L141.73,449.07 L143.05,449.28 L144.37,449.48 L145.68,449.68 L147.00,449.91 L148.32,450.18 L149.64,450.44 L150.96,450.71 L152.28,450.97 L153.60,451.24 L154.92,451.50 L156.24,451.88 L157.56,452.27 L158.88,452.65 L160.19,453.04 L161.51,453.43 L162.83,453.81 L164.15,454.57 L165.47,455.49 L166.79,456.41 L168.11,457.33 L169.43,458.25 L170.75,459.17 L172.07,460.23 L173.39,461.48 L174.71,462.72 L176.03,463.88 L177.34,465.02 L178.66,466.17 L179.98,467.44 L181.30,468.71 L182.62,469.97 L183.94,471.24 L185.26,472.51 L186.58,473.77 L187.90,475.05 L189.22,476.37 L190.54,477.69 L191.86,479.01 L193.17,480.32 L194.49,481.64 L195.81,482.70 L197.13,483.65 L198.45,484.65 L199.77,485.75 L201.09,486.85 L202.41,487.94 L203.73,488.86 L205.05,489.58 L206.37,490.30 L207.69,491.02 L209.00,491.74 L210.32,492.27 L211.64,492.87 L212.96,493.47 L214.28,494.07 L215.60,494.67 L215.60,497.85 L214.28,497.85 L212.96,497.86 L211.64,497.86 L210.32,497.87 L209.00,497.87 L207.69,497.66 L206.37,497.45 L205.05,497.23 L203.73,497.01 L202.41,496.60 L201.09,496.01 L199.77,495.42 L198.45,494.85 L197.13,494.28 L195.81,493.71 L194.49,493.02 L193.17,492.08 L191.86,491.14 L190.54,490.20 L189.22,489.26 L187.90,488.32 L186.58,487.37 L185.26,486.33 L183.94,485.29 L182.62,484.25 L181.30,483.21 L179.98,482.18 L178.66,481.14 L177.34,480.21 L176.03,479.31 L174.71,478.39 L173.39,477.42 L172.07,476.46 L170.75,475.69 L169.43,475.06 L168.11,474.42 L166.79,473.79 L165.47,473.15 L164.15,472.52 L162.83,472.02 L161.51,471.70 L160.19,471.37 L158.88,471.05 L157.56,470.73 L156.24,470.40 L154.92,470.09 L153.60,469.89 L152.28,469.68 L150.96,469.48 L149.64,469.28 L148.32,469.08 L147.00,468.88 L145.68,468.71 L144.37,468.57 L143.05,468.43 L141.73,468.29 L140.41,468.15 L139.09,468.14 L137.77,468.18 L136.45,468.11 L135.13,468.03 L133.81,467.94 L132.49,467.86 L131.17,467.77 L129.85,467.68 L128.53,467.39 L127.22,466.28 L125.90,465.17 L124.58,464.06 L123.26,462.95 L121.94,461.84 L120.62,460.68 L119.30,459.24 L117.98,457.80 L116.66,456.35 L115.34,454.91 L114.02,453.79 L112.70,452.77 L111.39,451.51 L110.07,449.83 L108.75,448.26 L107.43,446.70 L106.11,445.13 L104.79,443.51 L103.47,441.81 L102.15,440.12 L100.83,438.42 L99.51,436.72 L98.19,435.73 L96.88,434.88 L95.56,434.03 L94.24,433.45 L92.92,433.11 L91.60,432.58 L90.28,432.05 L88.96,432.02 L87.64,433.41 L86.32,434.81 L85.00,436.20 L83.68,437.60 L82.36,439.68 L81.05,441.88 L79.73,444.07 L78.41,446.27 L77.09,448.47 L75.77,451.19 L74.45,453.91 L73.13,456.63 L71.81,459.35 L70.49,462.12 L69.17,465.03 L67.85,467.95 L66.53,470.86 L65.22,473.78 L63.90,476.52 L62.58,478.34 L61.26,480.15 L59.94,481.97 L58.62,483.78 L57.30,485.60 Z" fill="#3fbf9f" fill-opacity="0.19"/>
<path d="M57.30,488.40 L58.62,485.25 L59.94,482.11 L61.26,478.96 L62.58,475.81 L63.90,472.67 L65.22,468.03 L66.53,463.11 L67.85,458.20 L69.17,453.28 L70.49,447.79 L71.81,441.70 L73.13,435.61 L74.45,429.66 L75.77,423.95 L77.09,417.33 L78.41,410.41 L79.73,403.10 L81.05,395.44 L82.36,389.64 L83.68,384.47 L85.00,379.31 L86.32,374.22 L87.64,369.20 L88.96,364.87 L90.28,363.32 L91.60,361.77 L92.92,360.91 L94.24,360.35 L95.56,362.80 L96.88,366.84 L98.19,370.88 L99.51,374.92 L100.83,379.36 L102.15,383.20 L103.47,386.86 L104.79,390.79 L106.11,394.89 L107.43,398.99 L108.75,402.87 L110.07,406.28 L111.39,409.03 L112.70,412.61 L114.02,416.20 L115.34,419.78 L116.66,423.36 L117.98,426.81 L119.30,429.37 L120.62,431.92 L121.94,434.47 L123.26,437.03 L124.58,439.22 L125.90,440.96 L127.22,442.69 L128.53,444.57 L129.85,445.83 L131.17,447.09 L132.49,448.34 L133.81,449.60 L135.13,450.65 L136.45,451.39 L137.77,452.14 L139.09,452.89 L140.41,453.49 L141.73,453.79 L143.05,454.09 L144.37,454.39 L145.68,454.69 L147.00,454.98 L148.32,455.28 L149.64,455.58 L150.96,455.88 L152.28,456.27 L153.60,456.77 L154.92,457.27 L156.24,457.77 L157.56,458.27 L158.88,458.77 L160.19,459.27 L161.51,459.77 L162.83,460.28 L164.15,461.09 L165.47,462.00 L166.79,462.92 L168.11,463.83 L169.43,464.74 L170.75,465.66 L172.07,466.85 L173.39,468.11 L174.71,469.37 L176.03,470.37 L177.34,471.30 L178.66,472.23 L179.98,473.25 L181.30,474.27 L182.62,475.28 L183.94,476.30 L185.26,477.32 L186.58,478.33 L187.90,479.32 L189.22,480.40 L190.54,481.48 L191.86,482.55 L193.17,483.63 L194.49,484.70 L195.81,485.50 L197.13,486.18 L198.45,486.93 L199.77,487.82 L201.09,488.72 L202.41,489.62 L203.73,490.41 L205.05,491.10 L206.37,491.78 L207.69,492.47 L209.00,493.11 L210.32,493.65 L211.64,494.18 L212.96,494.71 L214.28,495.24 L215.60,495.77 L215.60,498.97 L214.28,499.09 L212.96,499.20 L211.64,499.20 L210.32,499.20 L209.00,499.20 L207.69,499.20 L206.37,499.20 L205.05,499.20 L203.73,499.20 L202.41,499.20 L201.09,499.20 L199.77,499.20 L198.45,499.20 L197.13,499.20 L195.81,499.20 L194.49,499.20 L193.17,499.05 L191.86,498.61 L190.54,498.17 L189.22,497.70 L187.90,497.22 L186.58,496.71 L185.26,495.93 L183.94,495.16 L182.62,494.39 L181.30,493.61 L179.98,492.84 L178.66,492.06 L177.34,491.37 L176.03,490.68 L174.71,489.92 L173.39,488.90 L172.07,487.89 L170.75,486.94 L169.43,486.27 L168.11,485.59 L166.79,484.92 L165.47,484.25 L164.15,483.58 L162.83,482.97 L161.51,482.40 L160.19,481.84 L158.88,481.28 L157.56,480.71 L156.24,480.15 L154.92,479.58 L153.60,479.02 L152.28,478.45 L150.96,478.00 L149.64,477.64 L148.32,477.28 L147.00,476.92 L145.68,476.56 L144.37,476.20 L143.05,475.83 L141.73,475.47 L140.41,475.11 L139.09,474.85 L137.77,474.62 L136.45,474.40 L135.13,474.18 L133.81,473.65 L132.49,472.92 L131.17,472.19 L129.85,471.46 L128.53,470.72 L127.22,469.11 L125.90,467.47 L124.58,465.83 L123.26,463.73 L121.94,461.28 L120.62,458.82 L119.30,456.37 L117.98,453.91 L116.66,450.97 L115.34,447.90 L114.02,444.83 L112.70,441.76 L111.39,438.69 L110.07,436.45 L108.75,434.21 L107.43,431.54 L106.11,428.64 L104.79,425.74 L103.47,423.01 L102.15,420.55 L100.83,418.08 L99.51,416.20 L98.19,414.71 L96.88,413.22 L95.56,411.73 L94.24,410.17 L92.92,410.42 L91.60,410.67 L90.28,410.93 L88.96,411.18 L87.64,414.22 L86.32,417.94 L85.00,421.73 L83.68,425.60 L82.36,429.47 L81.05,433.97 L79.73,440.19 L78.41,445.53 L77.09,450.48 L75.77,455.12 L74.45,458.86 L73.13,462.85 L71.81,466.96 L70.49,471.08 L69.17,474.75 L67.85,477.95 L66.53,481.15 L65.22,484.34 L63.90,487.26 L62.58,488.69 L61.26,490.12 L59.94,491.55 L58.62,492.97 L57.30,494.40 Z" fill="#1e6e73" fill-opacity="0.24"/>
<path d="M57.30,497.80 L59.28,497.21 L61.26,496.62 L63.24,495.96 L65.22,494.72 L67.19,493.17 L69.17,491.25 L71.15,488.11 L73.13,484.97 L75.11,481.28 L77.09,476.59 L79.07,471.91 L81.05,467.79 L83.02,464.30 L85.00,461.04 L86.98,459.07 L88.96,457.09 L90.94,456.23 L92.92,455.60 L94.90,455.66 L96.88,456.28 L98.85,457.06 L100.83,458.40 L102.81,459.73 L104.79,461.06 L106.77,462.35 L108.75,463.61 L110.73,464.88 L112.71,466.15 L114.68,467.45 L116.66,468.93 L118.64,470.41 L120.62,471.75 L122.60,472.79 L124.58,473.83 L126.56,475.28 L128.53,476.85 L130.51,477.70 L132.49,478.43 L134.47,479.16 L136.45,479.89 L138.43,480.62 L140.41,481.36 L142.39,482.00 L144.37,482.39 L146.34,482.79 L148.32,483.18 L150.30,483.57 L152.28,483.96 L154.26,484.35 L156.24,484.74 L158.22,485.13 L160.19,485.52 L162.17,485.91 L164.15,486.30 L166.13,486.69 L168.11,487.08 L170.09,487.47 L172.07,487.92 L174.05,488.44 L176.02,488.95 L178.00,489.47 L179.98,489.98 L181.96,490.50 L183.94,491.01 L185.92,491.53 L187.90,492.04 L189.88,492.56 L191.86,493.07 L193.83,493.59 L195.81,494.10 L197.79,494.62 L199.77,495.09 L201.75,495.34 L203.73,495.54 L205.71,495.73 L207.69,495.92 L209.66,496.12 L211.64,496.31 L213.62,496.51 L215.60,496.70 L215.60,498.70 L213.62,498.51 L211.64,498.31 L209.66,498.12 L207.69,497.92 L205.71,497.73 L203.73,497.54 L201.75,497.34 L199.77,497.09 L197.79,496.70 L195.81,496.31 L193.83,495.99 L191.86,495.69 L189.88,495.40 L187.90,495.10 L185.92,494.81 L183.94,494.51 L181.96,494.22 L179.98,493.92 L178.00,493.63 L176.02,493.33 L174.05,493.04 L172.07,492.74 L170.09,492.49 L168.11,492.26 L166.13,492.04 L164.15,491.81 L162.17,491.59 L160.19,491.37 L158.22,491.14 L156.24,490.92 L154.26,490.70 L152.28,490.47 L150.30,490.25 L148.32,490.03 L146.34,489.80 L144.37,489.58 L142.39,489.35 L140.41,488.98 L138.43,488.56 L136.45,488.15 L134.47,487.73 L132.49,487.31 L130.51,486.89 L128.53,486.40 L126.56,485.51 L124.58,484.67 L122.60,484.08 L120.62,483.49 L118.64,482.72 L116.66,481.87 L114.68,481.02 L112.71,480.28 L110.73,479.55 L108.75,478.83 L106.77,478.10 L104.79,477.37 L102.81,476.60 L100.83,475.84 L98.85,475.08 L96.88,474.63 L94.90,474.27 L92.92,474.24 L90.94,474.60 L88.96,475.09 L86.98,476.22 L85.00,477.35 L83.02,479.22 L81.05,481.22 L79.07,483.58 L77.09,486.26 L75.11,488.94 L73.13,491.05 L71.15,492.85 L69.17,494.65 L67.19,495.75 L65.22,496.78 L63.24,497.96 L61.26,498.62 L59.28,499.20 L57.30,499.20 Z" fill="#f5a04a" fill-opacity="0.22"/>
<path d="M57.30,491.33 L59.28,489.90 L61.26,488.47 L63.24,487.04 L65.22,485.61 L67.19,483.93 L69.17,481.87 L71.15,479.81 L73.13,477.75 L75.11,475.69 L77.09,473.63 L79.07,471.68 L81.05,469.79 L83.02,467.90 L85.00,466.11 L86.98,464.81 L88.96,463.51 L90.94,462.56 L92.92,462.56 L94.90,462.56 L96.88,463.54 L98.85,464.57 L100.83,465.63 L102.81,467.13 L104.79,468.63 L106.77,470.14 L108.75,471.37 L110.73,472.46 L112.71,473.54 L114.68,474.63 L116.66,475.68 L118.64,476.70 L120.62,477.67 L122.60,478.54 L124.58,479.41 L126.56,480.16 L128.53,480.87 L130.51,481.59 L132.49,482.31 L134.47,483.03 L136.45,483.32 L138.43,483.58 L140.41,483.84 L142.39,484.11 L144.37,484.37 L146.34,484.63 L148.32,484.89 L150.30,485.22 L152.28,485.61 L154.26,485.99 L156.24,486.38 L158.22,486.76 L160.19,487.15 L162.17,487.53 L164.15,487.92 L166.13,488.30 L168.11,488.69 L170.09,489.07 L172.07,489.46 L174.05,489.84 L176.02,490.22 L178.00,490.61 L179.98,490.98 L181.96,491.35 L183.94,491.71 L185.92,492.08 L187.90,492.45 L189.88,492.82 L191.86,493.18 L193.83,493.56 L195.81,493.94 L197.79,494.33 L199.77,494.71 L201.75,495.02 L203.73,495.32 L205.71,495.61 L207.69,495.91 L209.66,496.11 L211.64,496.30 L213.62,496.50 L215.60,496.70 L215.60,498.70 L213.62,498.50 L211.64,498.30 L209.66,498.11 L207.69,497.91 L205.71,497.61 L203.73,497.32 L201.75,497.02 L199.77,496.73 L197.79,496.52 L195.81,496.31 L193.83,496.09 L191.86,495.89 L189.88,495.69 L187.90,495.48 L185.92,495.28 L183.94,495.08 L181.96,494.88 L179.98,494.68 L178.00,494.47 L176.02,494.26 L174.05,494.05 L172.07,493.84 L170.09,493.62 L168.11,493.41 L166.13,493.20 L164.15,492.99 L162.17,492.78 L160.19,492.57 L158.22,492.35 L156.24,492.14 L154.26,491.93 L152.28,491.72 L150.30,491.51 L148.32,491.33 L146.34,491.18 L144.37,491.04 L142.39,490.89 L140.41,490.75 L138.43,490.60 L136.45,490.46 L134.47,490.30 L132.49,489.90 L130.51,489.51 L128.53,489.11 L126.56,488.72 L124.58,488.31 L122.60,487.83 L120.62,487.35 L118.64,486.82 L116.66,486.25 L114.68,485.68 L112.71,485.08 L110.73,484.48 L108.75,483.89 L106.77,483.20 L104.79,482.38 L102.81,481.55 L100.83,480.72 L98.85,480.14 L96.88,479.57 L94.90,479.04 L92.92,479.04 L90.94,479.04 L88.96,479.56 L86.98,480.27 L85.00,480.99 L83.02,481.97 L81.05,483.01 L79.07,484.05 L77.09,485.12 L75.11,486.26 L73.13,487.39 L71.15,488.53 L69.17,489.66 L67.19,490.79 L65.22,491.72 L63.24,492.51 L61.26,493.29 L59.28,494.08 L57.30,494.87 Z" fill="#e0502e" fill-opacity="0.3"/>
<path d="M57.30,481.10 C58.43,479.00 61.85,473.60 64.10,468.50 C66.35,463.40 68.63,456.17 70.80,450.50 C72.97,444.83 74.98,439.45 77.10,434.50 C79.22,429.55 81.47,424.57 83.50,420.80 C85.53,417.03 88.33,413.38 89.30,411.90 L94.50,411.50 L99.30,416.10 C100.30,417.70 103.20,422.45 105.30,425.70 C107.40,428.95 110.28,433.43 111.90,435.60 C113.52,437.77 113.52,436.90 115.00,438.70 C116.48,440.50 118.50,443.68 120.80,446.40 C123.10,449.12 126.02,453.13 128.80,455.00 C131.58,456.87 134.58,456.87 137.50,457.60 C140.42,458.33 143.38,458.73 146.30,459.40 C149.22,460.07 152.15,460.75 155.00,461.60 C157.85,462.45 160.65,463.23 163.40,464.50 C166.15,465.77 168.98,467.45 171.50,469.20 C174.02,470.95 175.97,472.77 178.50,475.00 C181.03,477.23 183.97,480.17 186.70,482.60 C189.43,485.03 192.17,487.65 194.90,489.60 C197.63,491.55 200.75,493.23 203.10,494.30 C205.45,495.37 206.92,495.58 209.00,496.00 C211.08,496.42 214.50,496.67 215.60,496.80" fill="none" stroke="#3dbb9c" stroke-width="1.3" stroke-linejoin="round"/>
<path d="M57.30,491.40 C58.43,489.50 62.02,484.77 64.10,480.00 C66.18,475.23 68.15,468.27 69.80,462.80 C71.45,457.33 72.95,451.00 74.00,447.20 C75.05,443.40 75.22,443.52 76.10,440.00 C76.98,436.48 78.42,430.27 79.30,426.10 C80.18,421.93 80.35,419.30 81.40,415.00 C82.45,410.70 84.38,404.50 85.60,400.30 C86.82,396.10 88.18,391.55 88.70,389.80 L94.50,385.40 L100.30,393.50 C100.92,394.82 102.67,398.32 104.00,401.40 C105.33,404.48 107.08,409.25 108.30,412.00 C109.52,414.75 109.73,414.10 111.30,417.90 C112.87,421.70 115.58,429.70 117.70,434.80 C119.82,439.90 122.20,445.05 124.00,448.50 C125.80,451.95 126.73,453.45 128.50,455.50 C130.27,457.55 132.68,459.48 134.60,460.80 C136.52,462.12 137.15,462.48 140.00,463.40 C142.85,464.32 147.80,465.03 151.70,466.30 C155.60,467.57 160.18,469.55 163.40,471.00 C166.62,472.45 168.48,473.35 171.00,475.00 C173.52,476.65 175.88,478.75 178.50,480.90 C181.12,483.05 183.97,485.87 186.70,487.90 C189.43,489.93 192.17,491.78 194.90,493.10 C197.63,494.42 200.75,495.18 203.10,495.80 C205.45,496.42 206.92,496.53 209.00,496.80 C211.08,497.07 214.50,497.30 215.60,497.40" fill="none" stroke="#0e6567" stroke-width="1.5" stroke-linejoin="round"/>
<path d="M57.30,498.80 C58.25,498.52 61.10,497.95 63.00,497.10 C64.90,496.25 66.80,495.42 68.70,493.70 C70.60,491.98 72.50,489.67 74.40,486.80 C76.30,483.93 78.38,479.25 80.10,476.50 C81.82,473.75 83.17,471.92 84.70,470.30 C86.23,468.68 87.78,467.57 89.30,466.80 C90.82,466.03 92.28,465.70 93.80,465.70 C95.32,465.70 96.50,466.03 98.40,466.80 C100.30,467.57 102.53,468.97 105.20,470.30 C107.87,471.63 111.93,473.52 114.40,474.80 C116.87,476.08 118.23,477.13 120.00,478.00 C121.77,478.87 123.53,479.28 125.00,480.00 C126.47,480.72 125.98,481.30 128.80,482.30 C131.62,483.30 137.28,485.02 141.90,486.00 C146.52,486.98 151.63,487.47 156.50,488.20 C161.37,488.93 166.23,489.55 171.10,490.40 C175.97,491.25 180.83,492.33 185.70,493.30 C190.57,494.27 195.32,495.47 200.30,496.20 C205.28,496.93 213.05,497.45 215.60,497.70" fill="none" stroke="#ef9a35" stroke-width="1.3"/>
<path d="M57.30,493.10 C58.82,492.25 62.98,490.38 66.40,488.00 C69.82,485.62 74.75,481.18 77.80,478.80 C80.85,476.42 82.60,475.03 84.70,473.70 C86.80,472.37 88.68,471.28 90.40,470.80 C92.12,470.32 93.28,470.42 95.00,470.80 C96.72,471.18 98.62,472.05 100.70,473.10 C102.78,474.15 105.03,475.87 107.50,477.10 C109.97,478.33 113.42,479.63 115.50,480.50 C117.58,481.37 118.42,481.72 120.00,482.30 C121.58,482.88 122.57,483.27 125.00,484.00 C127.43,484.73 130.57,486.00 134.60,486.70 C138.63,487.40 144.33,487.58 149.20,488.20 C154.07,488.82 158.93,489.67 163.80,490.40 C168.67,491.13 173.53,491.88 178.40,492.60 C183.27,493.32 188.13,493.98 193.00,494.70 C197.87,495.42 203.83,496.40 207.60,496.90 C211.37,497.40 214.27,497.57 215.60,497.70" fill="none" stroke="#dd4526" stroke-width="1.5"/>
<path d="M57.5,357.9 L57.5,499.5 L216.4,499.5" fill="none" stroke="#111" stroke-width="1.1"/>
<text x="50.8" y="370.3" font-size="11" text-anchor="end">0.8</text>
<text x="50.8" y="403.5" font-size="11" text-anchor="end">0.6</text>
<text x="50.8" y="436.7" font-size="11" text-anchor="end">0.4</text>
<text x="50.8" y="469.9" font-size="11" text-anchor="end">0.2</text>
<text x="52.3" y="500" font-size="11" text-anchor="end">0</text>
<text x="57.3" y="510.9" font-size="10.5" text-anchor="middle">0</text>
<text x="109.8" y="510.9" font-size="10.5" text-anchor="middle">1</text>
<text x="214.8" y="510.9" font-size="10.5" text-anchor="middle">3</text>
<text x="133.70" y="523.6" font-size="10.02" textLength="79.10" lengthAdjust="spacingAndGlyphs" text-anchor="middle" stroke="#111" stroke-width="0.1">Decision Times (s)</text>
<text x="0" y="0" font-size="9.95" textLength="113.52" lengthAdjust="spacingAndGlyphs" text-anchor="middle" stroke="#111" stroke-width="0.1" transform="translate(10.60,422.6) rotate(-90)">Proportion of Trials Density</text>
<path d="M266.5,358.4 L266.5,499.5 L351.9,499.5" fill="none" stroke="#111" stroke-width="1.1"/>
<text x="258.6" y="368.0" font-size="10.5" text-anchor="end">100</text>
<text x="258.6" y="395.0" font-size="10.5" text-anchor="end">90</text>
<text x="258.6" y="422.0" font-size="10.5" text-anchor="end">80</text>
<text x="258.6" y="449.0" font-size="10.5" text-anchor="end">70</text>
<text x="258.6" y="476.0" font-size="10.5" text-anchor="end">60</text>
<text x="258.6" y="503.0" font-size="10.5" text-anchor="end">50</text>
<text x="285.70" y="511.9" font-size="9.75" textLength="20.22" lengthAdjust="spacingAndGlyphs" text-anchor="middle" stroke="#111" stroke-width="0.1">Data</text>
<text x="331.00" y="511.9" font-size="9.75" textLength="19.74" lengthAdjust="spacingAndGlyphs" text-anchor="middle" stroke="#111" stroke-width="0.1">Sim.</text>
<text x="310.60" y="523.6" font-size="9.86" textLength="69.24" lengthAdjust="spacingAndGlyphs" text-anchor="middle" stroke="#111" stroke-width="0.1">Choice accuracy</text>
<text x="0" y="0" font-size="9.75" textLength="41.28" lengthAdjust="spacingAndGlyphs" text-anchor="middle" stroke="#111" stroke-width="0.1" transform="translate(237.60,442.2) rotate(-90)">% Correct</text>
<line x1="293.0" y1="404.5" x2="331.0" y2="401.5" stroke="#2e8c8a" stroke-opacity="0.55" stroke-width="0.55" stroke-dasharray="1.5,1.2"/>
<line x1="293.0" y1="409.3" x2="331.0" y2="404.5" stroke="#2e8c8a" stroke-opacity="0.55" stroke-width="0.55" stroke-dasharray="1.5,1.2"/>
<line x1="293.0" y1="410.3" x2="331.0" y2="419.5" stroke="#2e8c8a" stroke-opacity="0.55" stroke-width="0.55" stroke-dasharray="1.5,1.2"/>
<line x1="293.0" y1="421.5" x2="331.0" y2="408.0" stroke="#2e8c8a" stroke-opacity="0.55" stroke-width="0.55" stroke-dasharray="1.5,1.2"/>
<line x1="293.0" y1="424.0" x2="331.0" y2="423.0" stroke="#2e8c8a" stroke-opacity="0.55" stroke-width="0.55" stroke-dasharray="1.5,1.2"/>
<line x1="293.0" y1="427.0" x2="331.0" y2="414.0" stroke="#2e8c8a" stroke-opacity="0.55" stroke-width="0.55" stroke-dasharray="1.5,1.2"/>
<line x1="293.0" y1="431.5" x2="331.0" y2="427.0" stroke="#2e8c8a" stroke-opacity="0.55" stroke-width="0.55" stroke-dasharray="1.5,1.2"/>
<line x1="293.0" y1="433.5" x2="331.0" y2="430.5" stroke="#2e8c8a" stroke-opacity="0.55" stroke-width="0.55" stroke-dasharray="1.5,1.2"/>
<line x1="293.0" y1="437.5" x2="331.0" y2="441.0" stroke="#2e8c8a" stroke-opacity="0.55" stroke-width="0.55" stroke-dasharray="1.5,1.2"/>
<line x1="293.0" y1="440.0" x2="331.0" y2="451.5" stroke="#2e8c8a" stroke-opacity="0.55" stroke-width="0.55" stroke-dasharray="1.5,1.2"/>
<circle cx="290" cy="404.5" r="4.9" fill="#2c8584" fill-opacity="0.19"/>
<circle cx="290.3" cy="409.3" r="4.9" fill="#2c8584" fill-opacity="0.19"/>
<circle cx="289.5" cy="410.3" r="4.9" fill="#2c8584" fill-opacity="0.19"/>
<circle cx="289.8" cy="421.5" r="4.9" fill="#2c8584" fill-opacity="0.19"/>
<circle cx="290.5" cy="424" r="4.9" fill="#2c8584" fill-opacity="0.19"/>
<circle cx="289.3" cy="427" r="4.9" fill="#2c8584" fill-opacity="0.19"/>
<circle cx="288.8" cy="431.5" r="4.9" fill="#2c8584" fill-opacity="0.19"/>
<circle cx="289.6" cy="433.5" r="4.9" fill="#2c8584" fill-opacity="0.19"/>
<circle cx="288.9" cy="437.5" r="4.9" fill="#2c8584" fill-opacity="0.19"/>
<circle cx="289.8" cy="440" r="4.9" fill="#2c8584" fill-opacity="0.19"/>
<rect x="330.3" y="396.7" width="9.6" height="9.6" fill="#5ec4a8" fill-opacity="0.18"/>
<rect x="330.3" y="399.7" width="9.6" height="9.6" fill="#5ec4a8" fill-opacity="0.18"/>
<rect x="330.3" y="403.2" width="9.6" height="9.6" fill="#5ec4a8" fill-opacity="0.18"/>
<rect x="330.3" y="409.2" width="9.6" height="9.6" fill="#5ec4a8" fill-opacity="0.18"/>
<rect x="330.3" y="414.7" width="9.6" height="9.6" fill="#5ec4a8" fill-opacity="0.18"/>
<rect x="330.3" y="418.2" width="9.6" height="9.6" fill="#5ec4a8" fill-opacity="0.18"/>
<rect x="330.3" y="422.2" width="9.6" height="9.6" fill="#5ec4a8" fill-opacity="0.18"/>
<rect x="330.3" y="425.7" width="9.6" height="9.6" fill="#5ec4a8" fill-opacity="0.18"/>
<rect x="330.3" y="430.2" width="9.6" height="9.6" fill="#5ec4a8" fill-opacity="0.18"/>
<rect x="330.3" y="436.2" width="9.6" height="9.6" fill="#5ec4a8" fill-opacity="0.18"/>
<rect x="330.3" y="446.7" width="9.6" height="9.6" fill="#5ec4a8" fill-opacity="0.18"/>
<line x1="287" y1="424" x2="331.4" y2="423.4" stroke="#17706f" stroke-width="2"/>
<circle cx="287" cy="424" r="4.4" fill="#126c6b" stroke="#111" stroke-width="1.2"/>
<rect x="327.6" y="419.5" width="7.7" height="7.7" fill="#5cc3a7" stroke="#111" stroke-width="1.2"/>
<path d="M432.5,359 L432.5,499.5 L553.7,499.5" fill="none" stroke="#111" stroke-width="1.1"/>
<line x1="471.5" y1="499.2" x2="471.5" y2="497.8" stroke="#111" stroke-width="0.8"/>
<line x1="524.6" y1="499.2" x2="524.6" y2="497.8" stroke="#111" stroke-width="0.8"/>
<text x="426.6" y="363" font-size="10.5" text-anchor="end">1</text>
<text x="425.8" y="433" font-size="10.5" text-anchor="end">0.5</text>
<text x="427.1" y="503.6" font-size="10.5" text-anchor="end">0</text>
<text x="471.10" y="512" font-size="9.92" textLength="21.76" lengthAdjust="spacingAndGlyphs" text-anchor="middle" stroke="#111" stroke-width="0.1">Error</text>
<text x="524.60" y="512" font-size="9.92" textLength="31.23" lengthAdjust="spacingAndGlyphs" text-anchor="middle" stroke="#111" stroke-width="0.1">Correct</text>
<text x="497.10" y="523" font-size="9.84" textLength="82.80" lengthAdjust="spacingAndGlyphs" text-anchor="middle" stroke="#111" stroke-width="0.1">Response Accuracy</text>
<text x="0" y="0" font-size="9.88" textLength="122.43" lengthAdjust="spacingAndGlyphs" text-anchor="middle" stroke="#111" stroke-width="0.1" transform="translate(403.20,430.2) rotate(-90)">Proportion of high confidence</text>
<line x1="460.0" y1="428.4" x2="484.0" y2="441.0" stroke="#e8604a" stroke-opacity="0.45" stroke-width="0.5" stroke-dasharray="1.5,1.2"/>
<line x1="460.0" y1="429.8" x2="484.0" y2="435.0" stroke="#e8604a" stroke-opacity="0.45" stroke-width="0.5" stroke-dasharray="1.5,1.2"/>
<line x1="460.0" y1="435.6" x2="484.0" y2="447.0" stroke="#e8604a" stroke-opacity="0.45" stroke-width="0.5" stroke-dasharray="1.5,1.2"/>
<line x1="460.0" y1="439.8" x2="484.0" y2="438.0" stroke="#e8604a" stroke-opacity="0.45" stroke-width="0.5" stroke-dasharray="1.5,1.2"/>
<line x1="460.0" y1="444.0" x2="484.0" y2="444.0" stroke="#e8604a" stroke-opacity="0.45" stroke-width="0.5" stroke-dasharray="1.5,1.2"/>
<line x1="460.0" y1="450.0" x2="484.0" y2="452.0" stroke="#e8604a" stroke-opacity="0.45" stroke-width="0.5" stroke-dasharray="1.5,1.2"/>
<line x1="460.0" y1="458.3" x2="484.0" y2="458.0" stroke="#e8604a" stroke-opacity="0.45" stroke-width="0.5" stroke-dasharray="1.5,1.2"/>
<line x1="460.0" y1="470.3" x2="484.0" y2="474.5" stroke="#e8604a" stroke-opacity="0.45" stroke-width="0.5" stroke-dasharray="1.5,1.2"/>
<line x1="460.0" y1="478.7" x2="484.0" y2="466.0" stroke="#e8604a" stroke-opacity="0.45" stroke-width="0.5" stroke-dasharray="1.5,1.2"/>
<circle cx="457.6" cy="428.4" r="5" fill="#e2553a" fill-opacity="0.21"/>
<circle cx="457.6" cy="429.8" r="5" fill="#e2553a" fill-opacity="0.21"/>
<circle cx="457.6" cy="435.6" r="5" fill="#e2553a" fill-opacity="0.21"/>
<circle cx="457.6" cy="439.8" r="5" fill="#e2553a" fill-opacity="0.21"/>
<circle cx="457.6" cy="444" r="5" fill="#e2553a" fill-opacity="0.21"/>
<circle cx="457.6" cy="450" r="5" fill="#e2553a" fill-opacity="0.21"/>
<circle cx="457.6" cy="458.3" r="5" fill="#e2553a" fill-opacity="0.21"/>
<circle cx="457.6" cy="470.3" r="5" fill="#e2553a" fill-opacity="0.21"/>
<circle cx="457.6" cy="478.7" r="5" fill="#e2553a" fill-opacity="0.21"/>
<rect x="480" y="430.2" width="9.6" height="9.6" fill="#f4a032" fill-opacity="0.24"/>
<rect x="480" y="433.2" width="9.6" height="9.6" fill="#f4a032" fill-opacity="0.24"/>
<rect x="480" y="436.2" width="9.6" height="9.6" fill="#f4a032" fill-opacity="0.24"/>
<rect x="480" y="439.2" width="9.6" height="9.6" fill="#f4a032" fill-opacity="0.24"/>
<rect x="480" y="442.2" width="9.6" height="9.6" fill="#f4a032" fill-opacity="0.24"/>
<rect x="480" y="447.2" width="9.6" height="9.6" fill="#f4a032" fill-opacity="0.24"/>
<rect x="480" y="453.2" width="9.6" height="9.6" fill="#f4a032" fill-opacity="0.24"/>
<rect x="480" y="461.2" width="9.6" height="9.6" fill="#f4a032" fill-opacity="0.24"/>
<rect x="480" y="469.7" width="9.6" height="9.6" fill="#f4a032" fill-opacity="0.24"/>
<line x1="456" y1="446.2" x2="483.5" y2="450.2" stroke="#df4a2a" stroke-width="2"/>
<circle cx="456" cy="446.2" r="4.5" fill="#dc4527" stroke="#222" stroke-width="1.2"/>
<rect x="479.6" y="446.3" width="7.8" height="7.8" fill="#f0a646" stroke="#222" stroke-width="1.2"/>
<line x1="515.0" y1="412.5" x2="538.0" y2="409.5" stroke="#2e8c8a" stroke-opacity="0.45" stroke-width="0.5" stroke-dasharray="1.5,1.2"/>
<line x1="515.0" y1="415.5" x2="538.0" y2="415.0" stroke="#2e8c8a" stroke-opacity="0.45" stroke-width="0.5" stroke-dasharray="1.5,1.2"/>
<line x1="515.0" y1="418.5" x2="538.0" y2="412.5" stroke="#2e8c8a" stroke-opacity="0.45" stroke-width="0.5" stroke-dasharray="1.5,1.2"/>
<line x1="515.0" y1="420.0" x2="538.0" y2="418.0" stroke="#2e8c8a" stroke-opacity="0.45" stroke-width="0.5" stroke-dasharray="1.5,1.2"/>
<line x1="515.0" y1="423.0" x2="538.0" y2="420.5" stroke="#2e8c8a" stroke-opacity="0.45" stroke-width="0.5" stroke-dasharray="1.5,1.2"/>
<line x1="515.0" y1="424.5" x2="538.0" y2="425.5" stroke="#2e8c8a" stroke-opacity="0.45" stroke-width="0.5" stroke-dasharray="1.5,1.2"/>
<line x1="515.0" y1="426.0" x2="538.0" y2="423.0" stroke="#2e8c8a" stroke-opacity="0.45" stroke-width="0.5" stroke-dasharray="1.5,1.2"/>
<line x1="515.0" y1="429.0" x2="538.0" y2="428.0" stroke="#2e8c8a" stroke-opacity="0.45" stroke-width="0.5" stroke-dasharray="1.5,1.2"/>
<line x1="515.0" y1="430.5" x2="538.0" y2="430.0" stroke="#2e8c8a" stroke-opacity="0.45" stroke-width="0.5" stroke-dasharray="1.5,1.2"/>
<circle cx="512" cy="412.5" r="4.8" fill="#2c8584" fill-opacity="0.17"/>
<circle cx="513.5" cy="414" r="4.8" fill="#2c8584" fill-opacity="0.17"/>
<circle cx="511" cy="415.5" r="4.8" fill="#2c8584" fill-opacity="0.17"/>
<circle cx="514" cy="417" r="4.8" fill="#2c8584" fill-opacity="0.17"/>
<circle cx="512.5" cy="418.5" r="4.8" fill="#2c8584" fill-opacity="0.17"/>
<circle cx="510.5" cy="420" r="4.8" fill="#2c8584" fill-opacity="0.17"/>
<circle cx="513" cy="421.5" r="4.8" fill="#2c8584" fill-opacity="0.17"/>
<circle cx="511.5" cy="423" r="4.8" fill="#2c8584" fill-opacity="0.17"/>
<circle cx="514" cy="424.5" r="4.8" fill="#2c8584" fill-opacity="0.17"/>
<circle cx="512" cy="426" r="4.8" fill="#2c8584" fill-opacity="0.17"/>
<circle cx="510.5" cy="427.5" r="4.8" fill="#2c8584" fill-opacity="0.17"/>
<circle cx="513" cy="429" r="4.8" fill="#2c8584" fill-opacity="0.17"/>
<circle cx="511.5" cy="430.5" r="4.8" fill="#2c8584" fill-opacity="0.17"/>
<rect x="535" y="404.7" width="9.6" height="9.6" fill="#5ec4a8" fill-opacity="0.2"/>
<rect x="535" y="407.7" width="9.6" height="9.6" fill="#5ec4a8" fill-opacity="0.2"/>
<rect x="535" y="410.2" width="9.6" height="9.6" fill="#5ec4a8" fill-opacity="0.2"/>
<rect x="535" y="413.2" width="9.6" height="9.6" fill="#5ec4a8" fill-opacity="0.2"/>
<rect x="535" y="415.7" width="9.6" height="9.6" fill="#5ec4a8" fill-opacity="0.2"/>
<rect x="535" y="418.2" width="9.6" height="9.6" fill="#5ec4a8" fill-opacity="0.2"/>
<rect x="535" y="420.7" width="9.6" height="9.6" fill="#5ec4a8" fill-opacity="0.2"/>
<rect x="535" y="423.2" width="9.6" height="9.6" fill="#5ec4a8" fill-opacity="0.2"/>
<rect x="535" y="425.2" width="9.6" height="9.6" fill="#5ec4a8" fill-opacity="0.2"/>
<line x1="511.3" y1="421.4" x2="538.6" y2="420.6" stroke="#17706f" stroke-width="2"/>
<circle cx="511.3" cy="421.4" r="4.5" fill="#126c6b" stroke="#111" stroke-width="1.2"/>
<rect x="534.7" y="416.7" width="7.8" height="7.8" fill="#5cc3a7" stroke="#111" stroke-width="1.2"/>
<line x1="42.7" y1="547.9" x2="57.9" y2="547.9" stroke="#1c6b6c" stroke-width="1.7"/>
<line x1="58.9" y1="552.6" x2="64.4" y2="541.5" stroke="#000" stroke-width="2.1"/>
<line x1="65" y1="547.9" x2="80.2" y2="547.9" stroke="#66cbb0" stroke-width="1.7"/>
<text x="83.42" y="551.5" font-size="9.94" textLength="100.68" lengthAdjust="spacingAndGlyphs" stroke="#111" stroke-width="0.1">Data/Sim. Correct Trials</text>
<line x1="42.7" y1="563.5" x2="57.9" y2="563.5" stroke="#e2553a" stroke-width="1.7"/>
<line x1="58.5" y1="568.7" x2="64.4" y2="557.4" stroke="#000" stroke-width="2.1"/>
<line x1="65" y1="563.5" x2="80.2" y2="563.5" stroke="#f3a540" stroke-width="1.7"/>
<text x="83.43" y="567.4" font-size="9.79" textLength="89.41" lengthAdjust="spacingAndGlyphs" stroke="#111" stroke-width="0.1">Data/Sim. Error Trials</text>
<circle cx="277.8" cy="556.9" r="5" fill="#126c6b" stroke="#222" stroke-width="1.1"/>
<line x1="287.5" y1="561.7" x2="291.5" y2="552" stroke="#000" stroke-width="1.9"/>
<rect x="294.6" y="552" width="10.2" height="10.2" fill="#5cc3a7" stroke="#222" stroke-width="1.1"/>
<text x="338.40" y="555.3" font-size="9.83" textLength="55.94" lengthAdjust="spacingAndGlyphs" text-anchor="middle" stroke="#111" stroke-width="0.1">Correct Trials</text>
<text x="337.90" y="565.7" font-size="9.80" textLength="44.87" lengthAdjust="spacingAndGlyphs" text-anchor="middle" stroke="#111" stroke-width="0.1">(data/sim.)</text>
<circle cx="420.3" cy="556.9" r="5" fill="#dc4527" stroke="#222" stroke-width="1.1"/>
<line x1="429.9" y1="561.7" x2="433.9" y2="551.6" stroke="#000" stroke-width="1.9"/>
<rect x="437.2" y="552" width="10.2" height="10.2" fill="#f0a646" stroke="#222" stroke-width="1.1"/>
<text x="474.30" y="555" font-size="9.83" textLength="46.45" lengthAdjust="spacingAndGlyphs" text-anchor="middle" stroke="#111" stroke-width="0.1">Error Trials</text>
<text x="474.30" y="565.7" font-size="9.80" textLength="44.87" lengthAdjust="spacingAndGlyphs" text-anchor="middle" stroke="#111" stroke-width="0.1">(data/sim.)</text>
</svg></body></html>
